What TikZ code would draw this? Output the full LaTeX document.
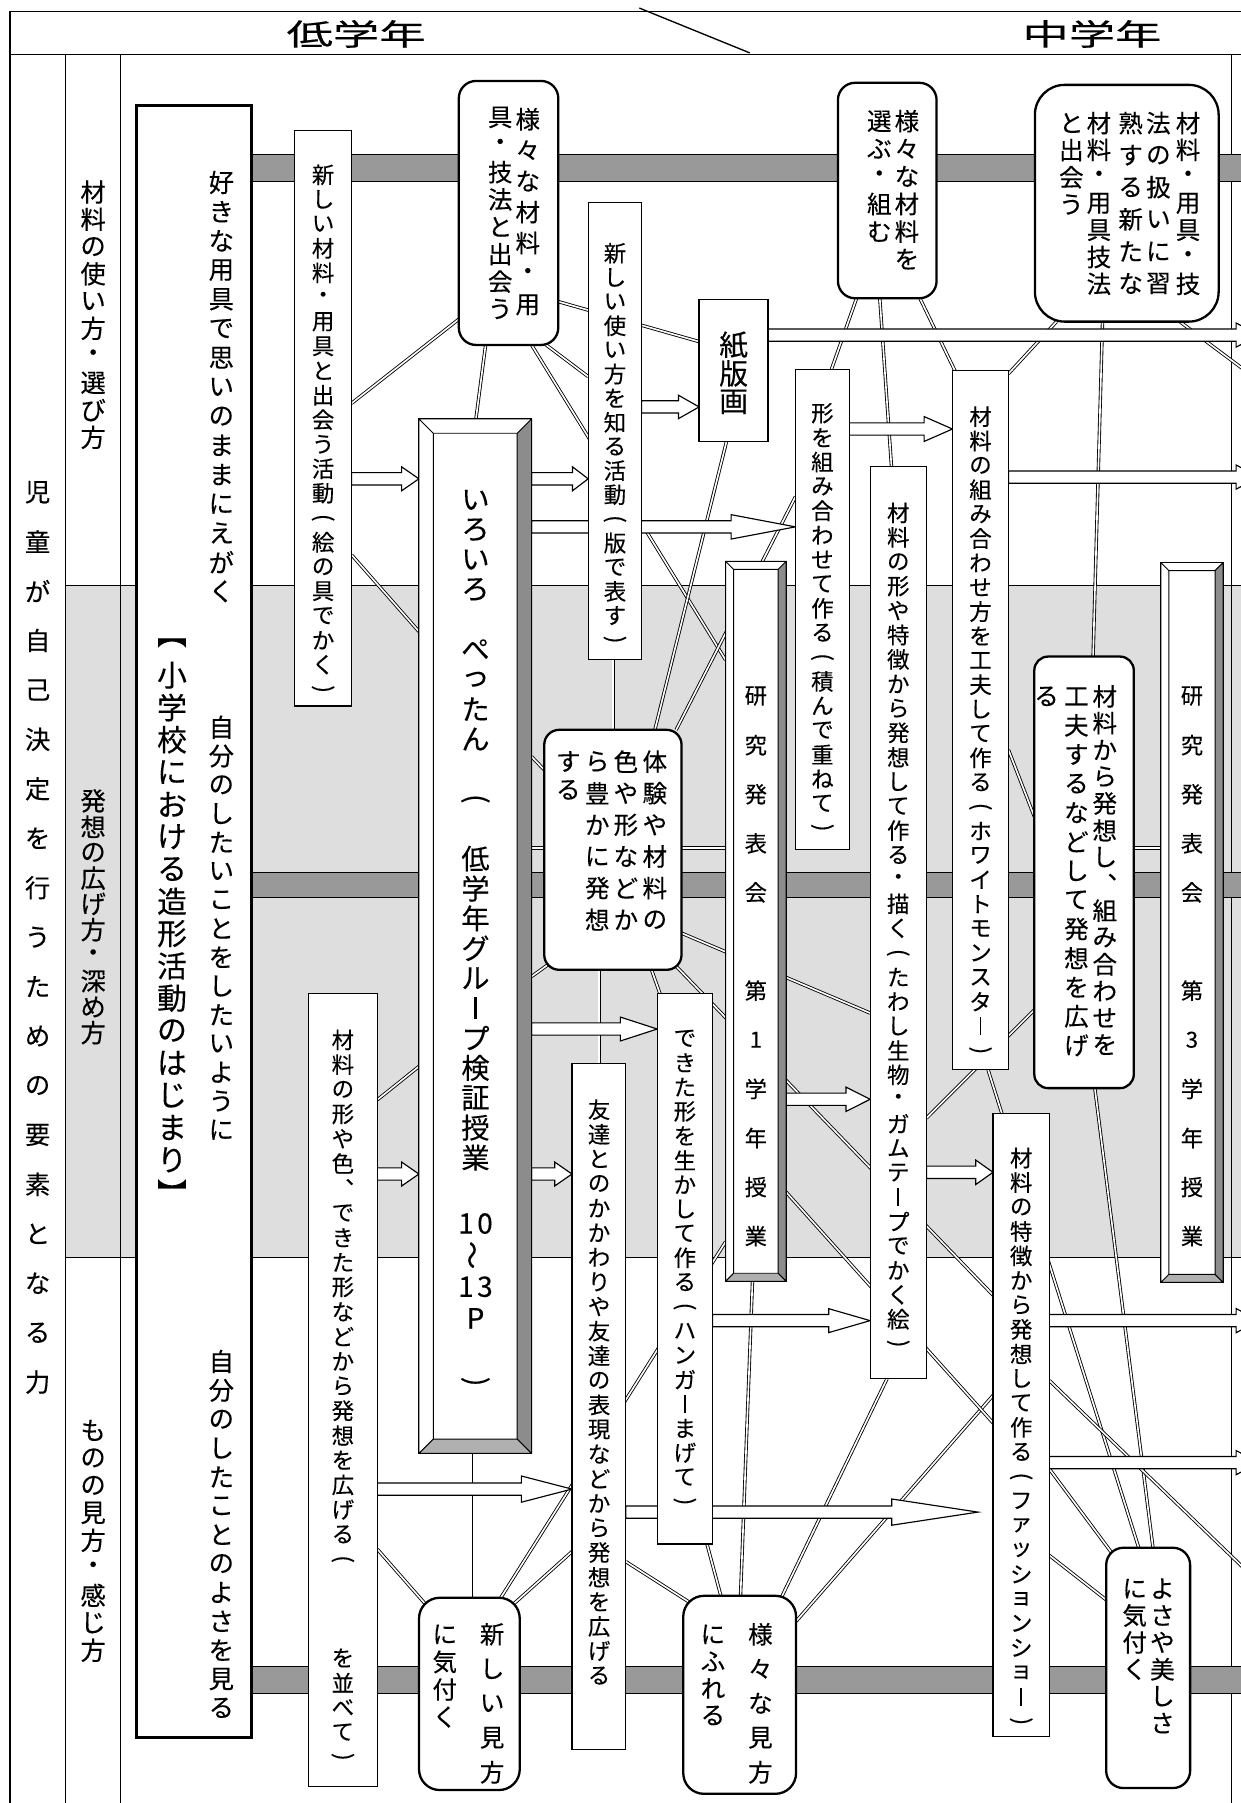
\documentclass[tikz,border=0pt]{standalone}
\usepackage{fontspec}
\setmainfont{Noto Sans CJK JP}[FakeBold=0.25]
\usepackage{graphicx}
\usetikzlibrary{calc}
\newdimen\upx \upx=0.6pt
\definecolor{bandgray}{HTML}{DEDEDE}
\definecolor{bargray}{HTML}{999999}
\definecolor{bevdark}{HTML}{8C8C8C}
\definecolor{bevlight}{HTML}{B0B0B0}
\newcommand\Cho{\rule{0.08em}{0.78em}}
\newcommand\Wave{\rotatebox{90}{〜}}
\newcommand\Lp{\rotatebox{-90}{(}}
\newcommand\Rp{\rotatebox{-90}{)}}
\ExplSyntaxOn
\dim_new:N \l__vt_pitch_dim
\cs_new_protected:Npn \__vt_ch:n #1
  {
    \hbox_to_wd:nn { 1em }
      { \hss \vbox_to_ht:nn { \l__vt_pitch_dim } { \vss \hbox:n {#1} \vss } \hss }
  }
\NewDocumentCommand \Vcol { m m }
  {
    \dim_set:Nn \l__vt_pitch_dim {#1}
    \vbox:n { \offinterlineskip \tl_map_function:nN {#2} \__vt_ch:n }
  }
\ExplSyntaxOff
\pgfdeclarelayer{bg}\pgfdeclarelayer{conn}\pgfdeclarelayer{arr}
\pgfsetlayers{bg,conn,arr,main}
\tikzset{
  bx/.style={draw=black, fill=white, line width=0.6pt, inner sep=0pt, outer sep=0pt, anchor=north west},
  rbx/.style={bx, line width=1.2pt, rounded corners=#1},
  vt/.style={inner sep=0pt, outer sep=0pt, anchor=north},
  conn/.style={draw=black, double=white, double distance=0.85pt, line width=0.45pt},
  blk/.style={draw=black, fill=white, line width=0.6pt, line join=miter},
  hbar/.style={draw=black, fill=bargray, line width=0.5pt},
  frm/.style={draw=black, line width=0.9pt},
  ln/.style={draw=black, line width=0.7pt},
  blockarrow/.style n args={2}{to path={
    let \p1=(\tikztostart), \p2=(\tikztotarget) in
    (\x1,\y1+3.2pt) -- (\x2-#1\upx,\y1+3.2pt) -- (\x2-#1\upx,\y1+#2\upx) -- (\x2,\y1)
    -- (\x2-#1\upx,\y1-#2\upx) -- (\x2-#1\upx,\y1-3.2pt) -- (\x1,\y1-3.2pt) -- cycle}},
  fa/.style={font=\fontsize{11.7}{11.7}\selectfont},
  fb/.style={font=\fontsize{12.8}{12.8}\selectfont},
  fc/.style={font=\fontsize{13.2}{13.2}\selectfont},
  fd/.style={font=\fontsize{14.7}{14.7}\selectfont},
  fe/.style={font=\fontsize{15.6}{15.6}\selectfont},
  fk/.style={font=\fontsize{11.6}{11.6}\selectfont},
}
\newcommand\bevel[2]{%
  \fill[bevdark] (#1.north east) -- (#1.south east) -- ($(#1.south east)+(-#2,-#2)$) -- ($(#1.north east)+(-#2,#2)$) -- cycle;
  \fill[bevlight] (#1.south west) -- (#1.south east) -- ($(#1.south east)+(-#2,-#2)$) -- ($(#1.south west)+(#2,-#2)$) -- cycle;
  \draw[line width=0.5pt] (#1.north west) rectangle (#1.south east)
    ($(#1.north west)+(#2,#2)$) rectangle ($(#1.south east)+(-#2,-#2)$)
    (#1.north west) -- ++(#2,#2) (#1.north east) -- ++(-#2,#2)
    (#1.south west) -- ++(#2,-#2) (#1.south east) -- ++(-#2,-#2);
}
\begin{document}
\begin{tikzpicture}[x=0.6pt,y=-0.6pt]
\useasboundingbox (0,0) rectangle (1079,1568);

% ---------- header & frame labels ----------
\node[fe] (h1) at (309.7,29.5) {\scalebox{1.55}[1]{低学年}};
\node[fe] (h2) at (949.7,29.5) {\scalebox{1.55}[1]{中学年}};
\node[vt, fc] (tL0) at (32.7,406.5) {\Vcol{43\upx}{児童が自己決定を行うための要素となる力}};
\node[vt, fc] (lab1) at (81,155.2) {\Vcol{23.7\upx}{材料の使い方・選び方}};
\node[vt, fc] (lab2) at (81,685.3) {\Vcol{22.4\upx}{発想の広げ方・深め方}};
\node[vt, fc] (lab3) at (81,1232) {\Vcol{23.9\upx}{ものの見方・感じ方}};

% ---------- boxes ----------
\node[bx, line width=1.5pt, minimum width=99.7\upx, minimum height=1419.5\upx] (A) at (119,91.5) {};
\node[bx, minimum width=49.8\upx, minimum height=500.3\upx] (B) at (256,113.7) {};
\node[rbx=9pt, minimum width=86.5\upx, minimum height=229.6\upx] (C) at (399,70.4) {};
\node[bx, minimum width=46.5\upx, minimum height=397.9\upx] (D) at (511.5,176) {};
\node[bx, line width=0.8pt, minimum width=60\upx, minimum height=123.7\upx] (E) at (608,260.3) {};
\node[rbx=9pt, minimum width=85.8\upx, minimum height=187.4\upx] (F) at (728.7,72) {};
\node[rbx=15.6pt, minimum width=159.8\upx, minimum height=205.9\upx] (G) at (900,73.8) {};
\node[bx, minimum width=46.7\upx, minimum height=417.4\upx] (H) at (691.8,321.1) {};
\node[bx, minimum width=49\upx, minimum height=793.2\upx] (I) at (756.7,405.8) {};
\node[bx, minimum width=48.7\upx, minimum height=608.1\upx] (J) at (828.3,322.3) {};
\node[bx, line width=0.5pt, minimum width=52.7\upx, minimum height=626.1\upx] (K) at (631,488.2) {};
\bevel{K}{7}
\node[bx, line width=0.5pt, minimum width=54.2\upx, minimum height=626.1\upx] (K3) at (1009.5,489.2) {};
\bevel{K3}{7}
\node[rbx=7.8pt, minimum width=119.4\upx, minimum height=208.7\upx] (L) at (473.3,634.7) {};
\node[rbx=7.2pt, minimum width=86.5\upx, minimum height=375.3\upx] (M) at (899.5,571) {};
\node[bx, minimum width=48.2\upx, minimum height=478.7\upx] (N) at (571.5,864) {};
\node[bx, minimum width=46.9\upx, minimum height=597\upx] (O) at (497.4,924.6) {};
\node[bx, minimum width=60\upx, minimum height=689.4\upx] (P) at (268.2,864) {};
\node[rbx=10.8pt, minimum width=87.6\upx, minimum height=167.2\upx] (Q) at (364.4,1389.5) {};
\node[rbx=10.8pt, minimum width=98.1\upx, minimum height=172.2\upx] (R) at (594.2,1387.8) {};
\node[bx, minimum width=49\upx, minimum height=541.7\upx] (S) at (863.6,968.2) {};
\node[rbx=9pt, minimum width=73\upx, minimum height=209\upx] (T) at (962,1346) {};
\node[bx, line width=0.5pt, minimum width=98\upx, minimum height=899.7\upx] (iro) at (364.3,364.3) {};
\bevel{iro}{12.5}

% ---------- texts ----------
\node[vt, fc] (tA1) at (192.5,146) {\Vcol{25.4\upx}{好きな用具で思いのままにえがく}};
\node[vt, fe] (tA2) at (149.6,545) {\Vcol{28.1\upx}{︻小学校における造形活動のはじまり︼}};
\node[vt, fc] (tA3) at (192.5,620) {\Vcol{25\upx}{自分のしたいことをしたいように}};
\node[vt, fc] (tA4) at (192.5,1171.5) {\Vcol{25.1\upx}{自分のしたことのよさを見る}};
\node[vt, fa] (tB) at (281,141.4) {\Vcol{21.3\upx}{新しい材料・用具と出会う活動\Lp 絵の具でかく\Rp}};
\node[vt, fb] (tC1) at (459,90.3) {\Vcol{26.9\upx}{様々な材料・用}};
\node[vt, fb] (tC2) at (435,90.2) {\Vcol{23.8\upx}{具・技法と出会う}};
\node[vt, fa] (tD) at (534.8,209.8) {\Vcol{21\upx}{新しい使い方を知る活動\Lp 版で表す\Rp}};
\node[vt, font=\fontsize{15}{15}\selectfont] (tE) at (638,287.7) {\Vcol{24.7\upx}{紙版画}};
\node[vt, fb] (tF1) at (788.7,93.4) {\Vcol{24\upx}{様々な材料を}};
\node[vt, fb] (tF2) at (764.7,93.4) {\Vcol{24\upx}{選ぶ・組む}};
\node[vt, fb] (tG1) at (1033.2,95.4) {\Vcol{23.3\upx}{材料・用具・技}};
\node[vt, fb] (tG2) at (1007.4,93.1) {\Vcol{27.9\upx}{法の扱いに習}};
\node[vt, fb] (tG3) at (983.3,93.1) {\Vcol{27.9\upx}{熟する新たな}};
\node[vt, fb] (tG4) at (955.7,95.4) {\Vcol{23.3\upx}{材料・用具技法}};
\node[vt, fb] (tG5) at (931.7,95.2) {\Vcol{23.6\upx}{と出会う}};
\node[vt, fa] (tH) at (715.2,348.8) {\Vcol{21.2\upx}{形を組み合わせて作る\Lp 積んで重ねて\Rp}};
\node[vt, fa] (tI) at (781.2,435.4) {\Vcol{21.25\upx}{材料の形や特徴から発想して作る・描く\Lp たわし生物・ガムテ\Cho プでかく絵\Rp}};
\node[vt, fa] (tJ) at (852.7,351.7) {\Vcol{21.2\upx}{材料の組み合わせ方を工夫して作る\Lp ホワイトモンスタ\Cho \Rp}};
\node[vt, fk] (tK) at (657.3,584) {\Vcol{42.7\upx}{研究発表会　第1学年授業}};
\node[vt, fk] (tK3) at (1036.6,584) {\Vcol{42.7\upx}{研究発表会　第3学年授業}};
\node[vt, fb] (tL1) at (569.5,648.6) {\Vcol{27.5\upx}{体験や材料の}};
\node[vt, fb] (tL2) at (544.3,648.6) {\Vcol{27.5\upx}{色や形などか}};
\node[vt, fb] (tL3) at (519.4,648.6) {\Vcol{27.5\upx}{ら豊かに発想}};
\node[vt, fb] (tL4) at (494.2,650) {\Vcol{24.6\upx}{する}};
\node[vt, fb] (tM1) at (960.8,593.9) {\Vcol{23.3\upx}{材料から発想し︑組み合わせを}};
\node[vt, fb] (tM2) at (936.1,592.9) {\Vcol{25.3\upx}{工夫するなどして発想を広げ}};
\node[vt, fb] (tM3) at (910.1,593.9) {\Vcol{23.3\upx}{る}};
\node[vt, fa] (tN) at (595.6,892.4) {\Vcol{21.2\upx}{できた形を生かして作る\Lp ハンガ\Cho まげて\Rp}};
\node[vt, fa] (tO) at (521,954.3) {\Vcol{21.4\upx}{友達とのかかわりや友達の表現などから発想を広げる}};
\node[vt, fa] (tP) at (298.2,893.6) {\Vcol{21.5\upx}{材料の形や色︑できた形などから発想を広げる\Lp 　　　を並べて\Rp}};
\node[vt, fb] (tQ1) at (428,1406.3) {\Vcol{30\upx}{新しい見方}};
\node[vt, fb] (tQ2) at (386.8,1409.3) {\Vcol{24\upx}{に気付く}};
\node[vt, fb] (tR1) at (661.3,1406.3) {\Vcol{30\upx}{様々な見方}};
\node[vt, fb] (tR2) at (620,1409.6) {\Vcol{23.5\upx}{にふれる}};
\node[vt, fa] (tS) at (888.1,996.4) {\Vcol{21.3\upx}{材料の特徴から発想して作る\Lp ファッションショ\Cho \Rp}};
\node[vt, fb] (tT1) at (1010.9,1369.8) {\Vcol{23.4\upx}{よさや美しさ}};
\node[vt, fb] (tT2) at (986.8,1369.8) {\Vcol{23.4\upx}{に気付く}};
\node[vt, fd] (tiro1) at (413.5,421.7) {\Vcol{26\upx}{いろいろ　ぺったん　\Lp 　低学年グル\Cho プ検証授業}};
\node[vt, fd] (tiro2) at (413.5,1050.3) {\Vcol{27.5\upx}{{1\kern0.12em 0}\Wave{1\kern0.12em 3}P　\Rp}};

% ---------- background ----------
\begin{pgfonlayer}{bg}
  \fill[bandgray] (56.7,509.4) rectangle (1079,1093.6);
  \draw[ln] (56.7,509.4) -- (1079,509.4) (56.7,1093.6) -- (1079,1093.6);
  \draw[frm] (9,10) -- (1079,10) (9,10) -- (9,1568) (9,47.5) -- (1079,47.5);
  \draw[ln] (56.7,47.5) -- (56.7,1568) (104.9,47.5) -- (104.9,1568) (1071,47.5) -- (1071,1568);
  \draw[line width=0.7pt] (556,7) -- (652,46);
  \draw[hbar] (219,134) rectangle (1090,158);
  \draw[hbar] (219,758.6) rectangle (1090,780.8);
  \draw[hbar] (219,1449) rectangle (1090,1473);
\end{pgfonlayer}

% ---------- connectors ----------
\coordinate (eG) at (1100,335.1);
\coordinate (eS) at (1100,1381.4);
\begin{pgfonlayer}{conn}
  \draw[conn] (B.east |- 0,350.7) -- (C.west |- 0,277.6);
  \draw[conn] (C.south -| 422.3,0) -- (iro.north -| 413.9,0);
  \draw[conn] (C.east |- 0,262.3) -- (E.west |- 0,297.1);
  \draw[conn] (C.south -| 475,0) -- (D.west |- 0,327.5);
  \draw[conn] (C.south -| 462.3,0) -- (K.west |- 0,573.9);
  \draw[conn] (B.east |- 0,482.6) -- (iro.west |- 0,549.2);
  \draw[conn] (E.south -| 631.8,0) -- (L.north -| 569.5,0);
  \draw[conn] (D.south -| 533.3,0) -- (L.north -| 533.3,0);
  \draw[conn] (H.west |- 0,431.9) -- (L.north -| 588,0);
  \draw[conn] (F.south -| 744.9,0) -- (H.north -| 723.1,0);
  \draw[conn] (F.south -| 765.1,0) -- (I.north -| 775.3,0);
  \draw[conn] (F.south -| 800,0) -- (J.north -| 830.4,0);
  \draw[conn] (G.south -| 918.8,0) -- (J.east |- 0,325);
  \draw[conn] (G.south -| 958.8,0) -- (M.north -| 950.6,0);
  \draw[conn] (G.south -| 1026,0) -- (eG);
  \draw[conn] (L.west |- 0,669.5) -- (iro.east |- 0,658);
  \draw[conn] (iro.east |- 0,737.6) -- (K.west |- 0,737.6);
  \draw[conn] (L.east |- 0,811.5) -- (I.west |- 0,881);
  \draw[conn] ($(L.south east)+(-12.7,-11.4)$) -- (S.west |- 0,1126.3);
  \draw[conn] (L.south -| 566.6,0) -- (N.north -| 573.9,0);
  \draw[conn] (L.south -| 521.1,0) -- (O.north -| 521.1,0);
  \draw[conn] ($(L.south west)+(4,-5)$) -- (iro.east |- 0,849.2);
  \draw[conn] (P.east |- 0,956.4) -- (iro.west |- 0,927.5);
  \draw[conn] (J.east |- 0,652.1) -- (M.west |- 0,710.1);
  \draw[conn] (M.west |- 0,878.2) -- (I.east |- 0,972.4);
  \draw[conn] (J.south -| 859.3,0) -- (T.north -| 990.3,0);
  \draw[conn] (M.south -| 952.1,0) -- (T.north -| 1002.7,0);
  \draw[conn] (M.east |- 0,737.6) -- (K3.west |- 0,737.6);
  \draw[conn] (iro.south -| 412,0) -- (Q.north -| 412,0);
  \draw[conn] (P.east |- 0,1347.3) -- ($(Q.north west)+(6,6)$);
  \draw[conn] (Q.north -| 435.5,0) -- (K.west |- 0,1080);
  \draw[conn] (O.west |- 0,1349.4) -- ($(Q.north east)+(-6,6)$);
  \draw[conn] (O.east |- 0,1358.1) -- ($(R.north west)+(6,6)$);
  \draw[conn] (N.south -| 614.8,0) -- (R.north -| 626.9,0);
  \draw[conn] (K.south -| 654.4,0) -- (R.north -| 644,0);
  \draw[conn] (I.south -| 771.4,0) -- ($(R.north east)+(-14,4)$);
  \draw[conn] (S.west |- 0,1213.5) -- (R.east |- 0,1410);
  \draw[conn] (K.east |- 0,1036.8) -- (S.west |- 0,1237.4);
  \draw[conn] (S.east |- 0,1277.5) -- ($(T.north west)+(6,6)$);
  \draw[conn] (S.east |- 0,1352.7) -- (T.west |- 0,1391.3);
  \draw[conn] (S.east |- 0,1200.6) -- (eS);
\end{pgfonlayer}

% ---------- block arrows ----------
\coordinate (eA5) at (1095,291.4);
\coordinate (eA7) at (1095,414.9);
\coordinate (eA16) at (1095,1148.5);
\coordinate (eA17) at (1095,1272);
\coordinate (tipO) at (850.5,1315);
\begin{pgfonlayer}{arr}
  \draw[blk] (B.east |- 0,416.4) to[blockarrow={15}{10.4}] (iro.west |- 0,416.4);
  \draw[blk] (iro.east |- 0,416.4) to[blockarrow={13.6}{10.4}] (D.west |- 0,416.4);
  \draw[blk] (D.east |- 0,353.9) to[blockarrow={18}{10.2}] (E.west |- 0,353.9);
  \draw[blk] (iro.east |- 0,458.2) to[blockarrow={56}{10.6}] (H.west |- 0,458.2);
  \draw[blk] (E.east |- 0,291.4) to[blockarrow={20}{10.5}] (eA5);
  \draw[blk] (H.east |- 0,373.1) to[blockarrow={24.6}{10.8}] (J.west |- 0,373.1);
  \draw[blk] (J.east |- 0,414.9) to[blockarrow={20}{10.5}] (eA7);
  \draw[blk] (iro.east |- 0,894.9) to[blockarrow={32}{10.4}] (N.west |- 0,894.9);
  \draw[blk] (K.east |- 0,956) to[blockarrow={21}{10.6}] (I.west |- 0,956);
  \draw[blk] (I.east |- 0,1019.5) to[blockarrow={15}{10.6}] (S.west |- 0,1019.5);
  \draw[blk] (iro.east |- 0,1021) to[blockarrow={15}{10.4}] (O.west |- 0,1021);
  \draw[blk] (P.east |- 0,1021) to[blockarrow={15}{10.4}] (iro.west |- 0,1021);
  \draw[blk] (P.east |- 0,1295) to[blockarrow={44}{11.4}] (O.west |- 0,1295);
  \draw[blk] (N.east |- 0,1148.5) to[blockarrow={36}{10.4}] (I.west |- 0,1148.5);
  \draw[blk] (O.east |- 0,1315) to[blockarrow={75}{11.4}] (tipO);
  \draw[blk] (S.east |- 0,1148.5) to[blockarrow={20}{10.5}] (eA16);
  \draw[blk] (S.east |- 0,1272) to[blockarrow={20}{10.5}] (eA17);
\end{pgfonlayer}
\end{tikzpicture}
\end{document}
